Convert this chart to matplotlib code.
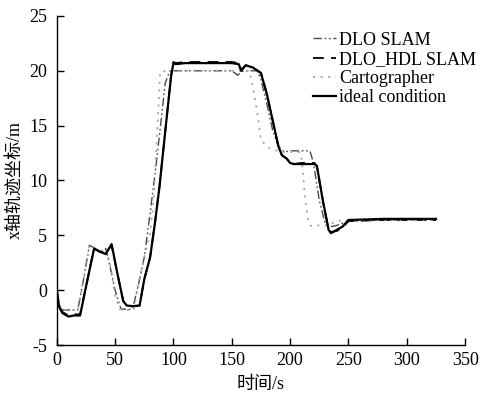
import matplotlib
matplotlib.use("Agg")
import matplotlib.pyplot as plt

plt.rcParams['font.family'] = ['Liberation Serif', 'Noto Sans CJK SC']
plt.rcParams['axes.unicode_minus'] = False

# ideal condition (solid)
t_ideal = [0, 2, 5, 10, 15, 20, 26, 32, 37, 42, 47, 52, 57, 60, 65, 71, 75, 80, 84, 88,
           93, 98, 100, 102, 110, 130, 150, 156, 158, 162, 168, 175, 180, 185, 190, 193,
           197, 200, 203, 210, 221, 223, 228, 233, 235, 240, 245, 250, 280, 325]
v_ideal = [0, -1.5, -2.1, -2.4, -2.3, -2.3, 0.8, 3.8, 3.5, 3.3, 4.2, 1.5, -1.0, -1.4, -1.45, -1.4,
           1.0, 3.0, 6.0, 9.4, 14.5, 19.5, 20.7, 20.6, 20.7, 20.7, 20.7, 20.6, 20.0, 20.5, 20.3,
           19.8, 17.9, 15.5, 13.1, 12.3, 12.0, 11.6, 11.5, 11.5, 11.5, 11.3, 8.2, 5.5, 5.2,
           5.5, 5.8, 6.4, 6.5, 6.5]

# DLO_HDL SLAM (dashed)
t_hdl = [0, 2, 5, 10, 15, 20, 26, 32, 37, 42, 47, 52, 57, 60, 65, 71, 75, 80, 84, 88,
         93, 98, 100, 102, 110, 130, 150, 156, 158, 162, 168, 175, 180, 185, 190, 193,
         197, 200, 203, 210, 221, 223, 228, 233, 235, 240, 245, 250, 280, 325]
v_hdl = [0, -1.5, -2.0, -2.3, -2.2, -2.2, 0.8, 3.8, 3.5, 3.4, 4.1, 1.5, -1.0, -1.4, -1.45, -1.4,
         1.0, 3.0, 6.0, 9.4, 14.5, 19.6, 20.8, 20.7, 20.8, 20.8, 20.8, 20.7, 20.1, 20.5, 20.3,
         19.8, 17.9, 15.5, 13.1, 12.3, 12.0, 11.6, 11.5, 11.6, 11.6, 11.3, 8.2, 5.5, 5.3,
         5.4, 5.7, 6.3, 6.4, 6.4]

# DLO SLAM (dash-dot)
t_dlo = [0, 2, 5, 10, 18, 23, 28, 33, 38, 42, 46, 50, 55, 60, 65, 70, 75, 80, 85, 90,
         93, 97, 110, 130, 150, 155, 160, 172, 175, 180, 185, 190, 195, 200, 210, 217,
         220, 225, 230, 235, 240, 245, 250, 280, 325]
v_dlo = [0, -1.2, -1.8, -1.8, -1.8, 1.0, 4.1, 3.8, 3.5, 3.8, 2.0, 0.0, -1.7, -1.75, -1.7, 0.5,
         3.0, 7.0, 11.3, 16.0, 18.9, 20.0, 20.0, 20.0, 20.0, 19.6, 20.0, 20.0, 19.2, 17.0,
         14.6, 13.1, 12.6, 12.7, 12.7, 12.7, 11.6, 8.2, 6.1, 5.8, 5.9, 6.1, 6.3, 6.4, 6.4]

# Cartographer (dotted)
t_carto = [0, 2, 5, 10, 18, 23, 28, 33, 38, 42, 46, 50, 54, 60, 66, 70, 75, 80, 83, 86,
           88.6, 95, 120, 150, 165, 168, 172, 175, 180, 185, 195, 208, 210, 213, 216, 218,
           225, 232, 240, 250, 280, 325]
v_carto = [0, -1.2, -1.8, -1.8, -1.8, 1.0, 4.1, 3.8, 3.6, 3.8, 2.2, -0.5, -1.75, -1.8, -1.8, 0.6,
           3.0, 5.2, 8.2, 14.3, 19.9, 20.0, 20.0, 20.0, 20.0, 18.6, 16.1, 13.7, 13.1, 12.8,
           12.6, 12.6, 11.9, 8.2, 6.1, 5.85, 5.9, 5.9, 6.3, 6.4, 6.4, 6.4]

labels = ['DLO SLAM', 'DLO_HDL SLAM', 'Cartographer', 'ideal condition']
x_ticks = [0, 50, 100, 150, 200, 250, 300, 350]
y_ticks = [-5, 0, 5, 10, 15, 20, 25]

fig = plt.figure(figsize=(4.81, 3.98), dpi=100)
ax = fig.add_axes([0.118, 0.133, 0.849, 0.827])

ax.plot(t_dlo, v_dlo, color='#4a4a4a', lw=1.0, linestyle=(0, (6, 2, 1.2, 2, 1.2, 2)), label=labels[0])
ax.plot(t_hdl, v_hdl, color='black', lw=1.3, linestyle=(0, (6, 4)), label=labels[1])
ax.plot(t_carto, v_carto, color='#a8a8a8', lw=1.3, linestyle=(0, (1.2, 3)), label=labels[2])
ax.plot(t_ideal, v_ideal, color='black', lw=1.6, linestyle='-', label=labels[3])

ax.set_xlim(0, 350)
ax.set_ylim(-5, 25)
ax.set_xticks(x_ticks)
ax.set_yticks(y_ticks)
ax.tick_params(direction='in', length=5, width=1, labelsize=13)
ax.tick_params(axis='y', pad=7)
ax.tick_params(axis='x', pad=5)
for s in ['top', 'right']:
    ax.spines[s].set_visible(False)
for s in ['left', 'bottom']:
    ax.spines[s].set_linewidth(1.0)

ax.set_xlabel('时间/s', fontsize=13, labelpad=5)
ax.set_ylabel('x轴轨迹坐标/m', fontsize=13, labelpad=4)

ax.legend(loc='upper left', bbox_to_anchor=(0.627, 0.952), frameon=False, fontsize=13,
          handlelength=1.3, handletextpad=0.15, labelspacing=0.12, borderpad=0, borderaxespad=0)

fig.savefig('out.png', dpi=100)
